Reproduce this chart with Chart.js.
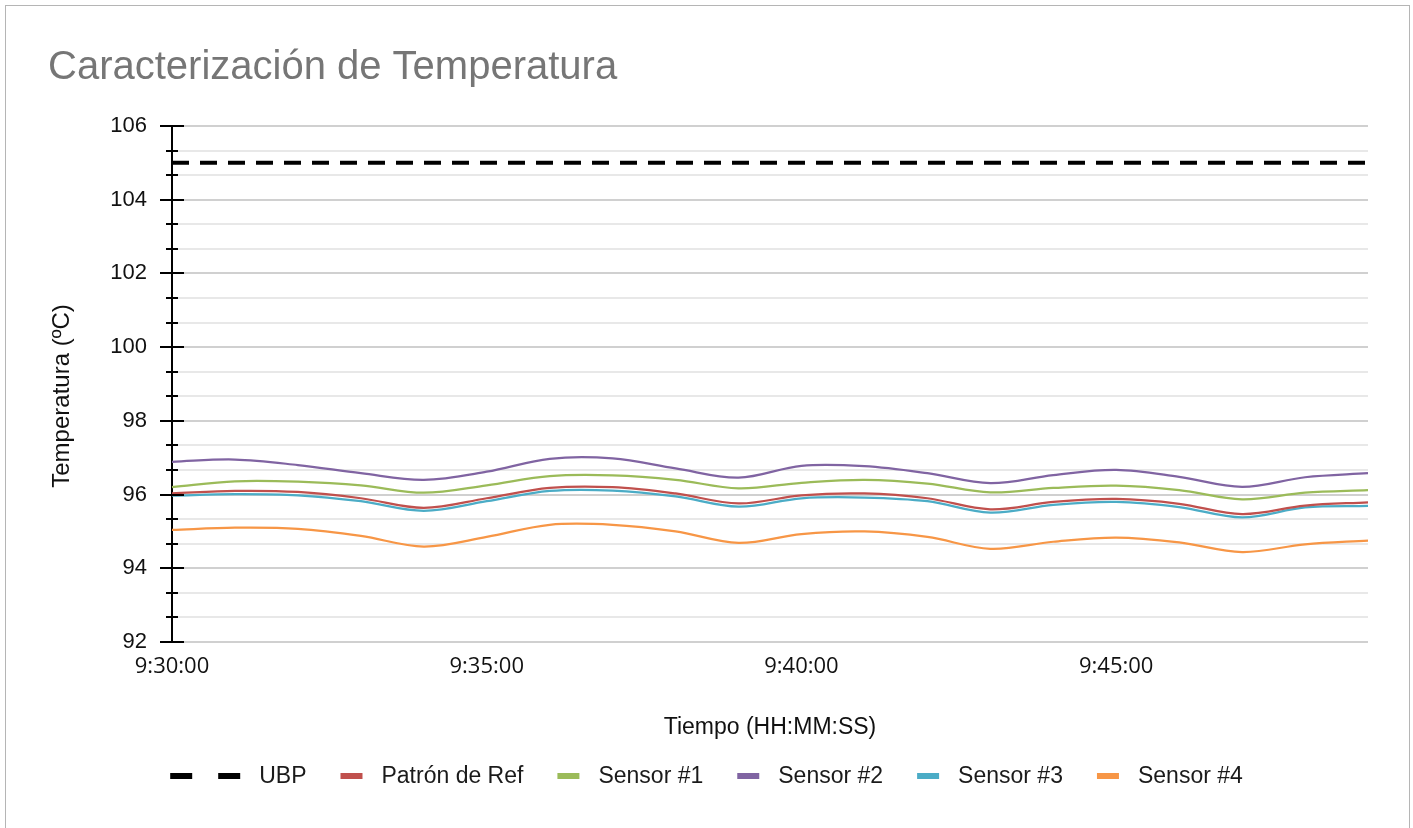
<!DOCTYPE html>
<html>
<head>
<meta charset="utf-8">
<script src="https://cdn.jsdelivr.net/npm/chart.js@4.4.1/dist/chart.umd.min.js"></script>
<style>
  html, body { margin: 0; padding: 0; background: #fff; }
  #wrap { position: relative; width: 1413px; height: 828px; overflow: hidden; }
  #frame { position: absolute; left: 5px; top: 5px; width: 1403px; height: 900px; border: 1px solid #b5b5b5; }
  canvas { position: absolute; left: 0; top: 0; }
</style>
</head>
<body>
<div id="wrap">
  <div id="frame"></div>
  <canvas id="tempChart" width="1413" height="828"></canvas>
</div>
<script>
// one reading per minute, 9:30 to 9:49
const times = ['9:30:00', '9:31:00', '9:32:00', '9:33:00', '9:34:00', '9:35:00', '9:36:00', '9:37:00', '9:38:00', '9:39:00',
               '9:40:00', '9:41:00', '9:42:00', '9:43:00', '9:44:00', '9:45:00', '9:46:00', '9:47:00', '9:48:00', '9:49:00'];

const ubp       = [105, 105, 105, 105, 105, 105, 105, 105, 105, 105, 105, 105, 105, 105, 105, 105, 105, 105, 105, 105];
const patronRef = [96.03, 96.10, 96.07, 95.90, 95.64, 95.90, 96.18, 96.20, 96.03, 95.76, 95.98, 96.03, 95.90, 95.60, 95.80, 95.88, 95.75, 95.47, 95.70, 95.79];
const sensor1   = [96.20, 96.36, 96.35, 96.25, 96.05, 96.25, 96.50, 96.52, 96.40, 96.17, 96.32, 96.40, 96.30, 96.06, 96.18, 96.24, 96.12, 95.87, 96.05, 96.12];
const sensor2   = [96.89, 96.95, 96.80, 96.58, 96.40, 96.62, 96.97, 96.98, 96.71, 96.46, 96.78, 96.77, 96.58, 96.31, 96.53, 96.67, 96.48, 96.21, 96.47, 96.58];
const sensor3   = [95.97, 96.01, 95.98, 95.82, 95.56, 95.82, 96.10, 96.11, 95.95, 95.67, 95.90, 95.92, 95.82, 95.51, 95.72, 95.80, 95.66, 95.38, 95.65, 95.69];
const sensor4   = [95.04, 95.10, 95.07, 94.88, 94.59, 94.85, 95.18, 95.18, 95.00, 94.69, 94.93, 95.00, 94.85, 94.53, 94.72, 94.83, 94.70, 94.44, 94.65, 94.75];

// y axis: labels every 2 degrees, minor ticks every 2/3
const yMin = 92;
const yMax = 106;
const yLabelStep = 2;
const yMinorStep = 2 / 3;

const textFont = '"Liberation Sans", Arial, sans-serif';

function isMajor(v) {
  const r = (v - yMin) / yLabelStep;
  return Math.abs(r - Math.round(r)) < 0.01;
}

// tick marks crossing the y axis, like the original
const crossTicks = {
  id: 'crossTicks',
  afterDraw(chart) {
    const y = chart.scales.y;
    const ctx = chart.ctx;
    const x0 = chart.chartArea.left;
    ctx.save();
    ctx.strokeStyle = '#000';
    ctx.lineWidth = 2;
    y.ticks.forEach(t => {
      const py = Math.round(y.getPixelForValue(t.value));
      const half = isMajor(t.value) ? 12 : 6;
      ctx.beginPath();
      ctx.moveTo(x0 - half, py);
      ctx.lineTo(x0 + half, py);
      ctx.stroke();
    });
    ctx.restore();
  }
};

// legend row under the axis title
const bottomLegend = {
  id: 'bottomLegend',
  afterDraw(chart) {
    const ctx = chart.ctx;
    const yMid = chart.chartArea.bottom + 134;
    ctx.save();
    ctx.font = '23px ' + textFont;
    ctx.textBaseline = 'middle';
    const items = chart.data.datasets.map(ds => ({
      label: ds.label,
      color: ds.borderColor,
      dashed: !!ds.borderDash,
      sw: ds.borderDash ? 70 : 22
    }));
    const gapText = 19, gapItem = 34;
    const widths = items.map(it => it.sw + gapText + ctx.measureText(it.label).width);
    const total = widths.reduce((a, b) => a + b, 0) + gapItem * (items.length - 1);
    let x = (chart.width - total) / 2;
    items.forEach((it, i) => {
      ctx.strokeStyle = it.color;
      ctx.lineWidth = 6;
      ctx.setLineDash(it.dashed ? [22, 26] : []);
      ctx.beginPath();
      ctx.moveTo(x, yMid);
      ctx.lineTo(x + it.sw, yMid);
      ctx.stroke();
      ctx.setLineDash([]);
      ctx.fillStyle = '#1a1a1a';
      ctx.fillText(it.label, x + it.sw + gapText, yMid + 1);
      x += widths[i] + gapItem;
    });
    ctx.restore();
  }
};

const ctx = document.getElementById('tempChart').getContext('2d');

new Chart(ctx, {
  type: 'line',
  data: {
    labels: times,
    datasets: [
      { label: 'UBP', data: ubp, borderColor: '#000000', borderWidth: 4, borderDash: [17, 11], tension: 0 },
      { label: 'Patrón de Ref', data: patronRef, borderColor: '#c0504d', borderWidth: 2.25 },
      { label: 'Sensor #1', data: sensor1, borderColor: '#9bbb59', borderWidth: 2.25 },
      { label: 'Sensor #2', data: sensor2, borderColor: '#8064a2', borderWidth: 2.25 },
      { label: 'Sensor #3', data: sensor3, borderColor: '#4bacc6', borderWidth: 2.25 },
      { label: 'Sensor #4', data: sensor4, borderColor: '#f79646', borderWidth: 2.25 }
    ]
  },
  options: {
    responsive: false,
    animation: false,
    events: [],
    elements: {
      point: { radius: 0 },
      line: { tension: 0.35, fill: false, borderCapStyle: 'butt' }
    },
    layout: { padding: { left: 48, right: 45, top: 0, bottom: 76 } },
    plugins: {
      legend: { display: false },
      tooltip: { enabled: false },
      title: {
        display: true,
        text: 'Caracterización de Temperatura',
        align: 'start',
        color: '#767676',
        font: { family: textFont, size: 40, weight: 'normal' },
        padding: { top: 44, bottom: 34 }
      }
    },
    scales: {
      x: {
        grid: { display: false, drawTicks: false },
        border: { display: false },
        ticks: {
          autoSkip: false,
          maxRotation: 0,
          padding: 12,
          color: '#111',
          font: { family: '"Open Sans", sans-serif', size: 22 },
          callback: function (v, i) { return i % 5 === 0 ? this.getLabelForValue(v) : null; }
        },
        title: {
          display: true,
          text: 'Tiempo (HH:MM:SS)',
          color: '#111',
          font: { family: textFont, size: 23 },
          padding: { top: 0, bottom: 11 }
        },
        afterFit: s => { s.height = 110; }
      },
      y: {
        min: yMin,
        max: yMax,
        afterBuildTicks: s => {
          const ticks = [];
          const n = Math.round((yMax - yMin) / yMinorStep);
          for (let i = 0; i <= n; i++) ticks.push({ value: yMin + i * yMinorStep });
          s.ticks = ticks;
        },
        afterFit: s => { s.width = 124; },
        border: { display: true, color: '#000', width: 2 },
        grid: {
          drawTicks: false,
          lineWidth: 2,
          color: c => (c.tick && isMajor(c.tick.value)) ? '#d0d0d0' : '#e8e8e8'
        },
        ticks: {
          autoSkip: false,
          padding: 25,
          color: '#111',
          font: { family: textFont, size: 22 },
          callback: v => isMajor(v) ? String(Math.round(v)) : ''
        },
        title: {
          display: true,
          text: 'Temperatura (ºC)\u2003',
          color: '#111',
          font: { family: textFont, size: 24 },
          padding: { top: 0, bottom: 0 }
        }
      }
    }
  },
  plugins: [crossTicks, bottomLegend]
});
</script>
</body>
</html>
